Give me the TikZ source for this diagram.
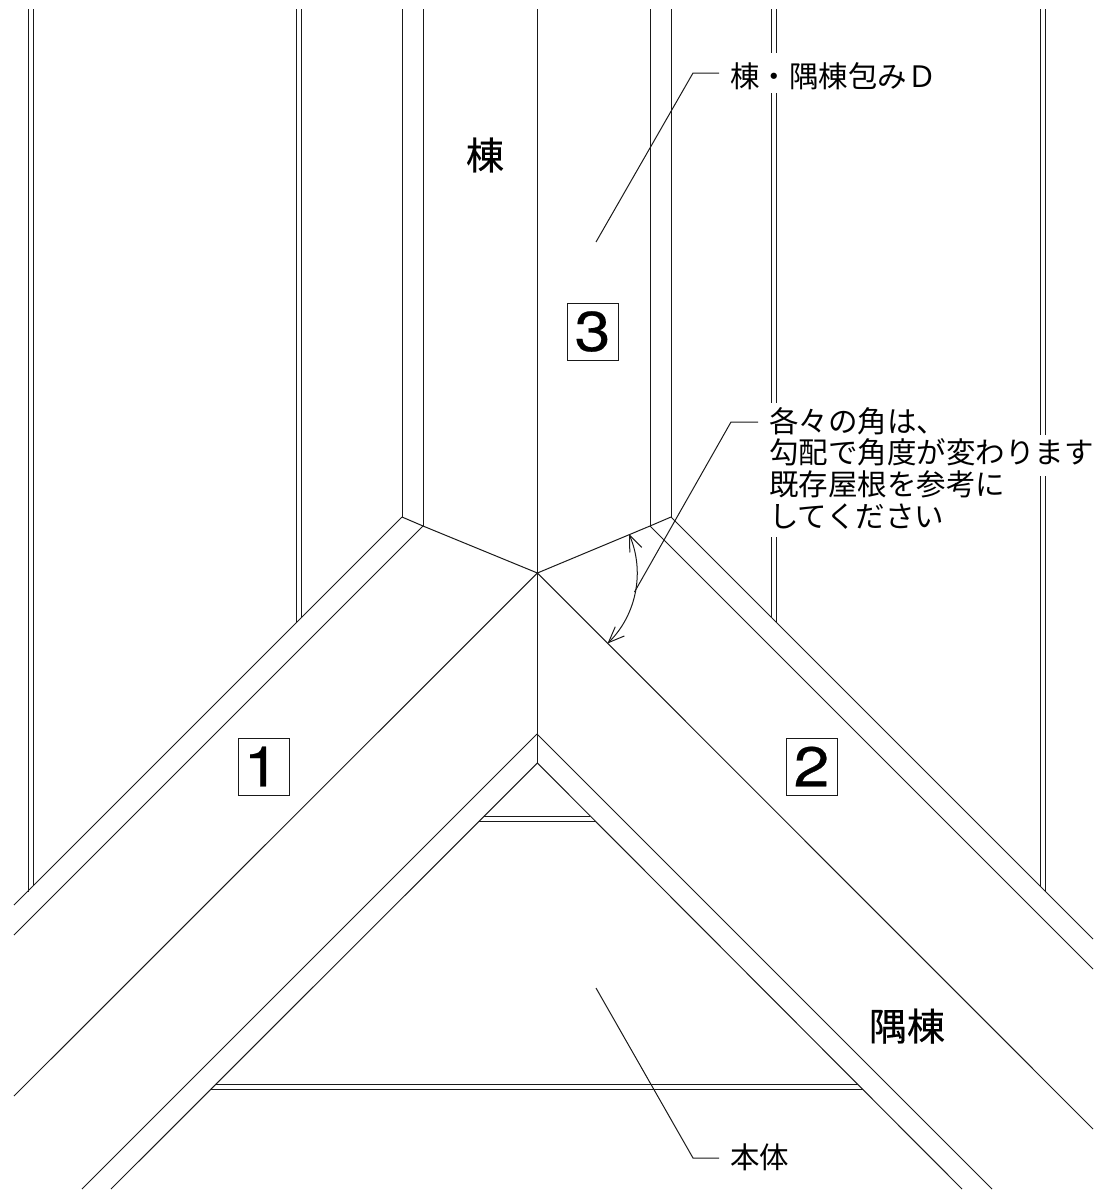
\documentclass[tikz,border=0pt]{standalone}
\usepackage{fontspec}
\usetikzlibrary{arrows.meta}
\setmainfont{Noto Sans CJK JP}
\newfontfamily\heavyfont[FakeBold=0.4]{Noto Sans CJK JP}
\newfontfamily\latinfont[FakeStretch=1.15,FakeBold=0.4]{TeX Gyre Heros}
\tikzset{
  x=1pt,y=-1pt,
  edge/.style={line width=1pt,black!90},
  leader/.style={line width=1pt,black!90},
  lbl/.style={inner sep=0pt,anchor=west,font=\fontsize{29.5pt}{31.7pt}\selectfont,align=left},
  big/.style={inner sep=0pt,font=\heavyfont\fontsize{38pt}{38pt}\selectfont},
  numbox/.style={draw,line width=1pt,black!90,text=black,minimum width=51pt,minimum height=57pt,inner sep=0pt,font=\latinfont\fontsize{56pt}{56pt}\selectfont},
  barb/.style={{Straight Barb[length=16pt,width=13pt,line width=1pt]}-{Straight Barb[length=16pt,width=13pt,line width=1pt]}}
}
\begin{document}
\begin{tikzpicture}
\useasboundingbox (0,0) rectangle (1093,1191);
% named vertices
\coordinate (c) at (537.4,573);
\coordinate (top) at (537.4,9);
\coordinate (la) at (402,517); \coordinate (lb) at (423,526);
\coordinate (ra) at (671,517); \coordinate (rb) at (650,526);
\coordinate (p1) at (537,734); \coordinate (p2) at (537.4,763);
% vertical strips
\draw[edge] (28,9) -- (28,892); \draw[edge] (33,9) -- (33,886);
\draw[edge] (296,9) -- (296,622); \draw[edge] (301,9) -- (301,617);
\draw[edge] (402,9) -- (la); \draw[edge] (423,9) -- (lb);
\draw[edge] (top) -- (c) -- (p2);
\draw[edge] (650,9) -- (rb); \draw[edge] (671,9) -- (ra);
\foreach \x/\e in {771/617,776/622}{
  \draw[edge] (\x,9) -- (\x,53);
  \draw[edge] (\x,93) -- (\x,403);
  \draw[edge] (\x,537) -- (\x,\e);
}
\foreach \x/\e in {1040/886,1045/892}{
  \draw[edge] (\x,9) -- (\x,435);
  \draw[edge] (\x,476) -- (\x,\e);
}
% ridge joint
\draw[edge] (la) -- (lb) -- (c) -- (rb) -- (ra);
% left hips
\draw[edge] (la) -- (14,905);
\draw[edge] (lb) -- (14,935);
\draw[edge] (c) -- (14,1096);
\draw[edge] (p1) -- (82,1189);
\draw[edge] (p2) -- (111,1189);
% right hips
\draw[edge] (ra) -- (1093,939);
\draw[edge] (rb) -- (1093,969);
\draw[edge] (c) -- (1093,1129);
\draw[edge] (p1) -- (992,1189);
\draw[edge] (p2) -- (962,1189);
% body horizontals
\draw[edge] (484,816) -- (590,816);
\draw[edge] (479,821) -- (595,821);
\draw[edge] (216,1084) -- (858,1084);
\draw[edge] (211,1089) -- (863,1089);
% angle arc
\coordinate (ar1) at (629,534);
\coordinate (ar2) at (607.5,643.5);
\draw[leader,barb] (ar1) .. controls (645,571.6) and (636.6,614.8) .. (ar2);
% leaders
\coordinate (arcm) at (634.5,592);
\draw[leader] (arcm) -- (731,422) -- (758,422);
\draw[leader] (596,242) -- (693,73) -- (719,73);
\draw[leader] (596,988) -- (693,1158) -- (719,1158);
% labels
\node[lbl] (t1) at (730,76) {棟・隅棟包みＤ};
\node[lbl,anchor=north west] (t2) at (769,407) {各々の角は、\\勾配で角度が変わります\\既存屋根を参考に\\してください};
\node[lbl] (t3) at (730,1157) {本体};
\node[big] (t4) at (485,155) {棟};
\node[big] (t5) at (907,1026) {隅棟};
\node[numbox] (n3) at (592.5,331.5) {3};
\node[numbox] (n1) at (263.5,766.5) {\hspace{-4pt}1};
\node[numbox] (n2) at (811.5,766.5) {2};
\end{tikzpicture}
\end{document}
